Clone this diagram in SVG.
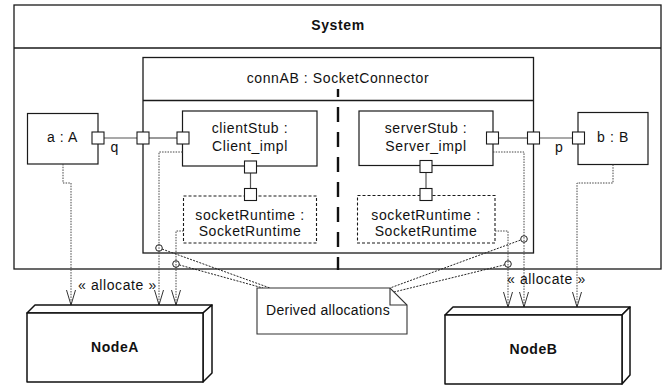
<svg xmlns="http://www.w3.org/2000/svg" width="667" height="385" viewBox="0 0 667 385">
<defs>
<style>
.box{fill:#fff;stroke:#1a1a1a;stroke-width:1.2}
.frame{fill:none;stroke:#1a1a1a;stroke-width:1.3}
.dbox{fill:#fff;stroke:#1a1a1a;stroke-width:1.1;stroke-dasharray:3,2}
.port{fill:#fff;stroke:#1a1a1a;stroke-width:1.1}
.wire{fill:none;stroke:#555;stroke-width:1.2}
.alloc{fill:none;stroke:#444;stroke-width:1;stroke-dasharray:1.5,1.2}
.nl{fill:none;stroke:#222;stroke-width:1;stroke-dasharray:2,1.3}
.circ{fill:none;stroke:#222;stroke-width:1}
.node{fill:#fff;stroke:#111;stroke-width:1.5;stroke-linejoin:round}
.t{font-family:"Liberation Sans",Arial,sans-serif;font-size:14px;fill:#111;letter-spacing:0.6px}
.c{text-anchor:middle}
.b{font-weight:bold}
</style>
<marker id="arr" markerUnits="userSpaceOnUse" markerWidth="18" markerHeight="12" viewBox="-16 -6 18 12" refX="0" refY="0" orient="auto">
<path d="M-15,-4.5 L0,0 L-15,4.5" fill="none" stroke="#333" stroke-width="1"/>
</marker>
</defs>

<g id="System">
<rect class="frame" x="14" y="5" width="647" height="264"/>
<line class="frame" x1="14" y1="48" x2="661" y2="48"/>
<text class="t c b" x="338" y="30">System</text>
</g>

<g id="connAB">
<rect class="frame" x="143" y="57.5" width="390.5" height="195.5"/>
<line class="frame" x1="143" y1="100.5" x2="533.5" y2="100.5"/>
<text class="t c" x="338" y="83">connAB : SocketConnector</text>
<line x1="338" y1="89" x2="338" y2="270" stroke="#111" stroke-width="2.4" stroke-dasharray="15,10" stroke-dashoffset="7"/>
</g>

<g id="a">
<rect class="box" x="27.5" y="113.5" width="70.5" height="50.5"/>
<text class="t c" x="62.5" y="142">a : A</text>
</g>

<g id="b">
<rect class="box" x="578" y="112.5" width="70" height="52"/>
<text class="t c" x="613" y="142">b : B</text>
</g>

<g id="clientStub">
<rect class="box" x="182.5" y="111" width="134.5" height="55"/>
<text class="t c" x="250" y="133">clientStub :</text>
<text class="t c" x="250" y="151">Client_impl</text>
</g>

<g id="serverStub">
<rect class="box" x="359" y="111" width="134" height="54.5"/>
<text class="t c" x="426" y="133">serverStub :</text>
<text class="t c" x="426" y="151">Server_impl</text>
</g>

<g id="socketRuntimeA">
<rect class="dbox" x="183.5" y="196" width="133" height="47"/>
<text class="t c" x="250" y="219.5">socketRuntime :</text>
<text class="t c" x="250" y="236">SocketRuntime</text>
</g>

<g id="socketRuntimeB">
<rect class="dbox" x="357.5" y="195.5" width="137.5" height="47.5"/>
<text class="t c" x="426" y="219.5">socketRuntime :</text>
<text class="t c" x="426" y="236">SocketRuntime</text>
</g>

<g id="connectors">
<line class="wire" x1="104" y1="138" x2="137" y2="138"/>
<line class="wire" x1="149" y1="138" x2="177" y2="138"/>
<line class="wire" x1="498.5" y1="138" x2="527.5" y2="138"/>
<line class="wire" x1="539.5" y1="138" x2="572.5" y2="138"/>
<line class="wire" x1="250.5" y1="173" x2="250.5" y2="188.5"/>
<line class="wire" x1="426" y1="172.5" x2="426" y2="188.5"/>

<path class="alloc" d="M63,164 V183 H71 V305" marker-end="url(#arr)"/>
<path class="alloc" d="M182.5,152 H159 V305" marker-end="url(#arr)"/>
<path class="alloc" d="M183.5,231 H176 V305" marker-end="url(#arr)"/>
<path class="alloc" d="M493,152 H524 V307" marker-end="url(#arr)"/>
<path class="alloc" d="M495,231 H508 V307" marker-end="url(#arr)"/>
<path class="alloc" d="M613,164.5 V183 H577 V307" marker-end="url(#arr)"/>

<line class="nl" x1="162.1" y1="249.1" x2="270" y2="288"/>
<line class="nl" x1="179.2" y1="264.9" x2="263" y2="288"/>
<line class="nl" x1="520.4" y1="240.1" x2="390" y2="288"/>
<line class="nl" x1="504.8" y1="264.8" x2="394" y2="292"/>
<circle class="circ" cx="159" cy="248" r="3.3"/>
<circle class="circ" cx="176" cy="264" r="3.3"/>
<circle class="circ" cx="524" cy="239" r="3.3"/>
<circle class="circ" cx="508" cy="264" r="3.3"/>

<text class="t" x="78" y="290">« allocate »</text>
<text class="t" x="507" y="284">« allocate »</text>
</g>

<g id="ports">
<rect class="port" x="92" y="132" width="12" height="12"/>
<rect class="port" x="137" y="132" width="12" height="12"/>
<rect class="port" x="177" y="132" width="12" height="12"/>
<rect class="port" x="244.5" y="161" width="12" height="12"/>
<rect class="port" x="244.5" y="188.5" width="12" height="12"/>
<rect class="port" x="486.5" y="132" width="12" height="12"/>
<rect class="port" x="527.5" y="132" width="12" height="12"/>
<rect class="port" x="572.5" y="132" width="12" height="12"/>
<rect class="port" x="420" y="160.5" width="12" height="12"/>
<rect class="port" x="420" y="188.5" width="12" height="12"/>
<text class="t" x="110.5" y="152">q</text>
<text class="t" x="555" y="152">p</text>
</g>

<g id="note">
<path d="M257,288 H390 L407,305 V334 H257 Z" fill="#fff" stroke="#333" stroke-width="1.1"/>
<path d="M390,288 V305 H407" fill="none" stroke="#333" stroke-width="1.1"/>
<text class="t" x="266" y="315" style="letter-spacing:0.3px">Derived allocations</text>
</g>

<g id="NodeA">
<path class="node" d="M27,313 L35,305 H212 L203,313 Z"/>
<path class="node" d="M203,313 L212,305 V373 L203,382 Z"/>
<rect class="node" x="27" y="313" width="176" height="69"/>
<text class="t c b" x="115" y="352">NodeA</text>
</g>

<g id="NodeB">
<path class="node" d="M445,315 L453,307 H630 L622,315 Z"/>
<path class="node" d="M622,315 L630,307 V375 L622,384 Z"/>
<rect class="node" x="445" y="315" width="177" height="69"/>
<text class="t c b" x="533.5" y="354">NodeB</text>
</g>
</svg>
